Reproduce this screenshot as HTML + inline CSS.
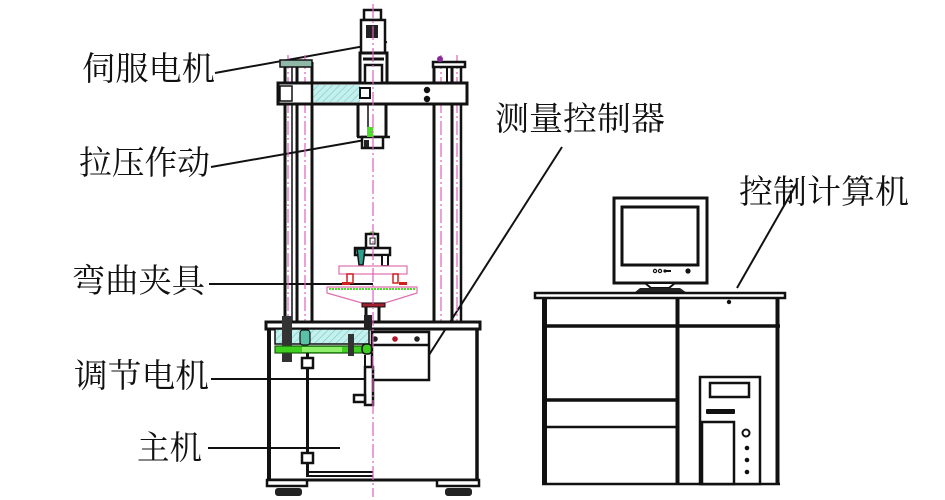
<!DOCTYPE html>
<html><head><meta charset="utf-8"><style>
html,body{margin:0;padding:0;background:#fff;}
svg{display:block;}
text{font-family:"Liberation Serif","Noto Serif CJK SC",serif;font-size:33px;fill:#111;}
</style></head><body>
<svg width="945" height="500" viewBox="0 0 945 500" xmlns="http://www.w3.org/2000/svg">
<defs>
<pattern id="h" width="5" height="5" patternUnits="userSpaceOnUse" patternTransform="rotate(45)">
<rect width="5" height="5" fill="#c4f0ee"/><line x1="0" y1="0" x2="0" y2="5" stroke="#7cc8c4" stroke-width="1.2"/>
</pattern>
</defs>
<rect width="945" height="500" fill="#fff"/>

<!-- ===== Labels ===== -->
<text x="82" y="70" dominant-baseline="central" textLength="133" lengthAdjust="spacingAndGlyphs">伺服电机</text>
<text x="79" y="164" dominant-baseline="central" textLength="131" lengthAdjust="spacingAndGlyphs">拉压作动</text>
<text x="72" y="282" dominant-baseline="central" textLength="133" lengthAdjust="spacingAndGlyphs">弯曲夹具</text>
<text x="74" y="377" dominant-baseline="central" textLength="135" lengthAdjust="spacingAndGlyphs">调节电机</text>
<text x="137" y="449" dominant-baseline="central" textLength="65" lengthAdjust="spacingAndGlyphs">主机</text>
<text x="495" y="120" dominant-baseline="central" textLength="170" lengthAdjust="spacingAndGlyphs">测量控制器</text>
<text x="739" y="193" dominant-baseline="central" textLength="170" lengthAdjust="spacingAndGlyphs">控制计算机</text>

<!-- label leader lines -->
<g stroke="#111" stroke-width="2" fill="none">
<line x1="215" y1="73" x2="387" y2="42"/>
<line x1="211" y1="167" x2="365" y2="140"/>
<line x1="209" y1="284" x2="373" y2="284"/>
<line x1="211" y1="379" x2="368" y2="379"/>
<line x1="208" y1="448" x2="340" y2="448"/>
<line x1="562" y1="147" x2="420" y2="369"/>
<line x1="797" y1="183" x2="737" y2="288"/>
</g>

<!-- ===== Testing machine ===== -->
<!-- columns -->
<g stroke="#111" fill="none">
<line x1="285" y1="62" x2="285" y2="323" stroke-width="3"/>
<line x1="292" y1="62" x2="292" y2="323" stroke-width="1.5"/>
<line x1="297" y1="62" x2="297" y2="323" stroke-width="3"/>
<line x1="312" y1="62" x2="312" y2="323" stroke-width="3"/>
<line x1="434" y1="62" x2="434" y2="323" stroke-width="3"/>
<line x1="447" y1="62" x2="447" y2="83" stroke-width="2"/>
<line x1="452" y1="62" x2="452" y2="323" stroke-width="3"/>
<line x1="461" y1="62" x2="461" y2="323" stroke-width="2.5"/>
</g>
<g stroke="#e060c0" stroke-width="1.2" fill="none" stroke-dasharray="14 3 2 3">
<line x1="288" y1="55" x2="288" y2="330"/>
<line x1="305" y1="55" x2="305" y2="330"/>
<line x1="441" y1="55" x2="441" y2="330"/>
<line x1="457" y1="55" x2="457" y2="330"/>
</g>
<!-- caps -->
<rect x="280" y="60" width="32" height="7" fill="#8fb8a8" stroke="#111" stroke-width="1.5"/>
<rect x="433" y="62" width="32" height="5" fill="#fff" stroke="#111" stroke-width="2.5"/>
<circle cx="440" cy="59" r="3" fill="#8a2a9a"/>

<!-- crossbeam -->
<rect x="278" y="83" width="189" height="21" fill="#fff" stroke="#111" stroke-width="3"/>
<rect x="312" y="85" width="48" height="17" fill="url(#h)"/>
<rect x="280" y="86" width="12" height="15" fill="#fff" stroke="#111" stroke-width="1.5"/>
<line x1="312" y1="83" x2="312" y2="104" stroke="#111" stroke-width="2.5"/>
<rect x="360" y="88" width="10" height="10" fill="#fff" stroke="#111" stroke-width="2"/>
<circle cx="427" cy="90" r="3.2" fill="#111"/>
<circle cx="427" cy="99" r="3.2" fill="#111"/>

<!-- servo motor -->
<rect x="364" y="10" width="17" height="10" fill="#fff" stroke="#111" stroke-width="2.5"/>
<rect x="361" y="20" width="24" height="33" fill="#fff" stroke="#111" stroke-width="2.5"/>
<rect x="366" y="25" width="12" height="13" fill="#222"/>
<rect x="360" y="53" width="27" height="30" fill="#fff" stroke="#111" stroke-width="3"/>
<line x1="363" y1="59" x2="384" y2="59" stroke="#111" stroke-width="3"/>
<rect x="365" y="65" width="17" height="18" fill="#fff" stroke="#111" stroke-width="2.5"/>

<!-- actuator -->
<g stroke="#111" fill="none">
<line x1="358" y1="104" x2="358" y2="137" stroke-width="3"/>
<line x1="368" y1="104" x2="368" y2="130" stroke-width="1.5"/>
<line x1="386" y1="104" x2="386" y2="137" stroke-width="3"/>
<line x1="357" y1="137" x2="390" y2="137" stroke-width="2.5"/>
<rect x="362" y="137" width="21" height="11" fill="#fff" stroke-width="2.5"/>
</g>
<rect x="367" y="127" width="6" height="10" fill="#4ddc2a"/>
<rect x="364" y="140" width="5" height="7" fill="#222"/>

<!-- bending fixture -->
<path d="M368 234 Q372 228 377 234 Z" fill="#7be05a"/>
<rect x="366" y="234" width="12" height="14" fill="#fff" stroke="#111" stroke-width="2.5"/>
<rect x="370" y="238" width="5" height="6" fill="#fff" stroke="#111" stroke-width="1"/>
<rect x="355" y="248" width="35" height="7" fill="#fff" stroke="#111" stroke-width="2.5"/>
<path d="M357 249 L365 249 L363 265 L359 265 Z" fill="#2aa090" stroke="#111" stroke-width="1.5"/>
<rect x="382" y="255" width="6" height="11" fill="#fff" stroke="#111" stroke-width="2"/>
<rect x="339" y="266" width="68" height="8" fill="#fff" stroke="#e070b0" stroke-width="1.2"/>
<rect x="347" y="274" width="6" height="9" fill="#fff" stroke="#d02020" stroke-width="1.5"/>
<rect x="393" y="274" width="5" height="9" fill="#fff" stroke="#d02020" stroke-width="1.5"/>
<rect x="342" y="282" width="8" height="3" fill="#d02020"/>
<rect x="399" y="282" width="8" height="3" fill="#d02020"/>
<path d="M327 287 L417 287 L417 293 L385 303 L362 303 L327 293 Z" fill="#fff" stroke="#e070b0" stroke-width="1.2"/>
<line x1="329" y1="289" x2="415" y2="289" stroke="#4ddc2a" stroke-width="2" stroke-dasharray="2 1"/>
<rect x="362" y="303" width="23" height="4" fill="#a02030" stroke="#111" stroke-width="1"/>
<line x1="366" y1="307" x2="366" y2="323" stroke="#111" stroke-width="3"/>
<line x1="379" y1="307" x2="379" y2="323" stroke="#111" stroke-width="3"/>

<!-- base -->
<rect x="266" y="322" width="214" height="7" fill="#fff" stroke="#111" stroke-width="3"/>
<g stroke="#111" fill="none">
<line x1="269" y1="329" x2="269" y2="481" stroke-width="4"/>
<line x1="477" y1="329" x2="477" y2="481" stroke-width="3.5"/>
<line x1="267" y1="480" x2="479" y2="480" stroke-width="3"/>
</g>
<rect x="275" y="329" width="94" height="15" fill="url(#h)" stroke="#111" stroke-width="1.5"/>
<rect x="300" y="330" width="10" height="15" rx="3" fill="#5cc0a8" stroke="#111" stroke-width="1.2"/>
<rect x="282" y="316" width="10" height="46" fill="#333"/>
<rect x="275" y="346" width="97" height="7" fill="#3fcf1f" stroke="#1a5a10" stroke-width="1.2"/>
<rect x="302" y="347" width="40" height="5" fill="#8ef06a"/>
<rect x="348" y="334" width="6" height="22" fill="#333"/>
<rect x="364" y="315" width="8" height="15" fill="#222"/>
<rect x="362" y="344" width="10" height="10" rx="4" fill="#3fcf1f" stroke="#111" stroke-width="1.5"/>
<!-- measurement controller -->
<rect x="372" y="332" width="57" height="48" fill="#fff" stroke="#111" stroke-width="2.5"/>
<line x1="372" y1="345" x2="429" y2="345" stroke="#111" stroke-width="2.5"/>
<circle cx="375" cy="339" r="2.8" fill="#222"/>
<circle cx="395" cy="339" r="2.8" fill="#b01828"/>
<circle cx="417" cy="339" r="2.8" fill="#222"/>
<!-- rod + boxes -->
<line x1="307.5" y1="353" x2="307.5" y2="477" stroke="#111" stroke-width="3"/>
<rect x="302" y="358" width="11" height="10" fill="#fff" stroke="#111" stroke-width="2.5"/>
<rect x="302" y="453" width="11" height="10" fill="#fff" stroke="#111" stroke-width="2.5"/>
<!-- adjusting motor -->
<rect x="365" y="367" width="8" height="38" fill="#fff" stroke="#111" stroke-width="2.5"/>
<rect x="354" y="395" width="11" height="7" fill="#fff" stroke="#111" stroke-width="2.5"/>
<line x1="365" y1="355" x2="365" y2="367" stroke="#111" stroke-width="2"/>
<!-- bottom -->
<line x1="307" y1="472" x2="373" y2="472" stroke="#111" stroke-width="2"/>
<line x1="307" y1="476" x2="373" y2="476" stroke="#111" stroke-width="2"/>
<rect x="267" y="480" width="40" height="6" fill="#fff" stroke="#111" stroke-width="2.5"/>
<rect x="437" y="480" width="42" height="6" fill="#fff" stroke="#111" stroke-width="2.5"/>
<rect x="275" y="488" width="27" height="8" rx="3" fill="#222"/>
<rect x="445" y="488" width="27" height="8" rx="3" fill="#222"/>

<!-- main center line -->
<line x1="373" y1="4" x2="373" y2="497" stroke="#e060c0" stroke-width="1.2" stroke-dasharray="14 3 2 3"/>

<!-- ===== Computer ===== -->
<rect x="614" y="198" width="93" height="85" fill="#fff" stroke="#111" stroke-width="3"/>
<rect x="622" y="207" width="76" height="58" fill="#fff" stroke="#111" stroke-width="3"/>
<circle cx="655" cy="271" r="1.6" fill="none" stroke="#111" stroke-width="1.2"/>
<circle cx="660" cy="271" r="1.6" fill="none" stroke="#111" stroke-width="1.2"/>
<circle cx="665" cy="271" r="1.6" fill="#111"/>
<rect x="666" y="270" width="5" height="2" fill="#111"/>
<circle cx="688" cy="271" r="2.6" fill="#111"/>
<path d="M645 283 L675 283 L669 288 L651 288 Z" fill="#fff" stroke="#111" stroke-width="2"/>
<path d="M640 288 L680 288 L687 293 L634 293 Z" fill="#222"/>
<rect x="535" y="293" width="250" height="5" fill="#fff" stroke="#111" stroke-width="2.5"/>
<g stroke="#111" fill="none">
<line x1="544.5" y1="298" x2="544.5" y2="485" stroke-width="5"/>
<line x1="677.5" y1="298" x2="677.5" y2="485" stroke-width="4"/>
<line x1="777.5" y1="298" x2="777.5" y2="485" stroke-width="4"/>
<line x1="542" y1="326" x2="780" y2="326" stroke-width="3.5"/>
<line x1="545" y1="400" x2="677" y2="400" stroke-width="3.5"/>
<line x1="545" y1="427" x2="677" y2="427" stroke-width="2.5"/>
<line x1="542" y1="484" x2="780" y2="484" stroke-width="2.5"/>
</g>
<circle cx="729" cy="302" r="2.2" fill="#111"/>
<rect x="700" y="377" width="60" height="107" fill="#fff" stroke="#111" stroke-width="2.5"/>
<rect x="710" y="383" width="39" height="14" fill="#fff" stroke="#111" stroke-width="2.5"/>
<rect x="706" y="409" width="29" height="5" rx="1" fill="#111"/>
<rect x="702" y="422" width="32" height="62" fill="#fff" stroke="#111" stroke-width="2.5"/>
<circle cx="746" cy="433" r="3.5" fill="#fff" stroke="#111" stroke-width="2"/>
<circle cx="747" cy="448" r="2.3" fill="#111"/>
<circle cx="747" cy="460" r="2.3" fill="#111"/>
<circle cx="747" cy="472" r="2.3" fill="#111"/>
</svg>
</body></html>
